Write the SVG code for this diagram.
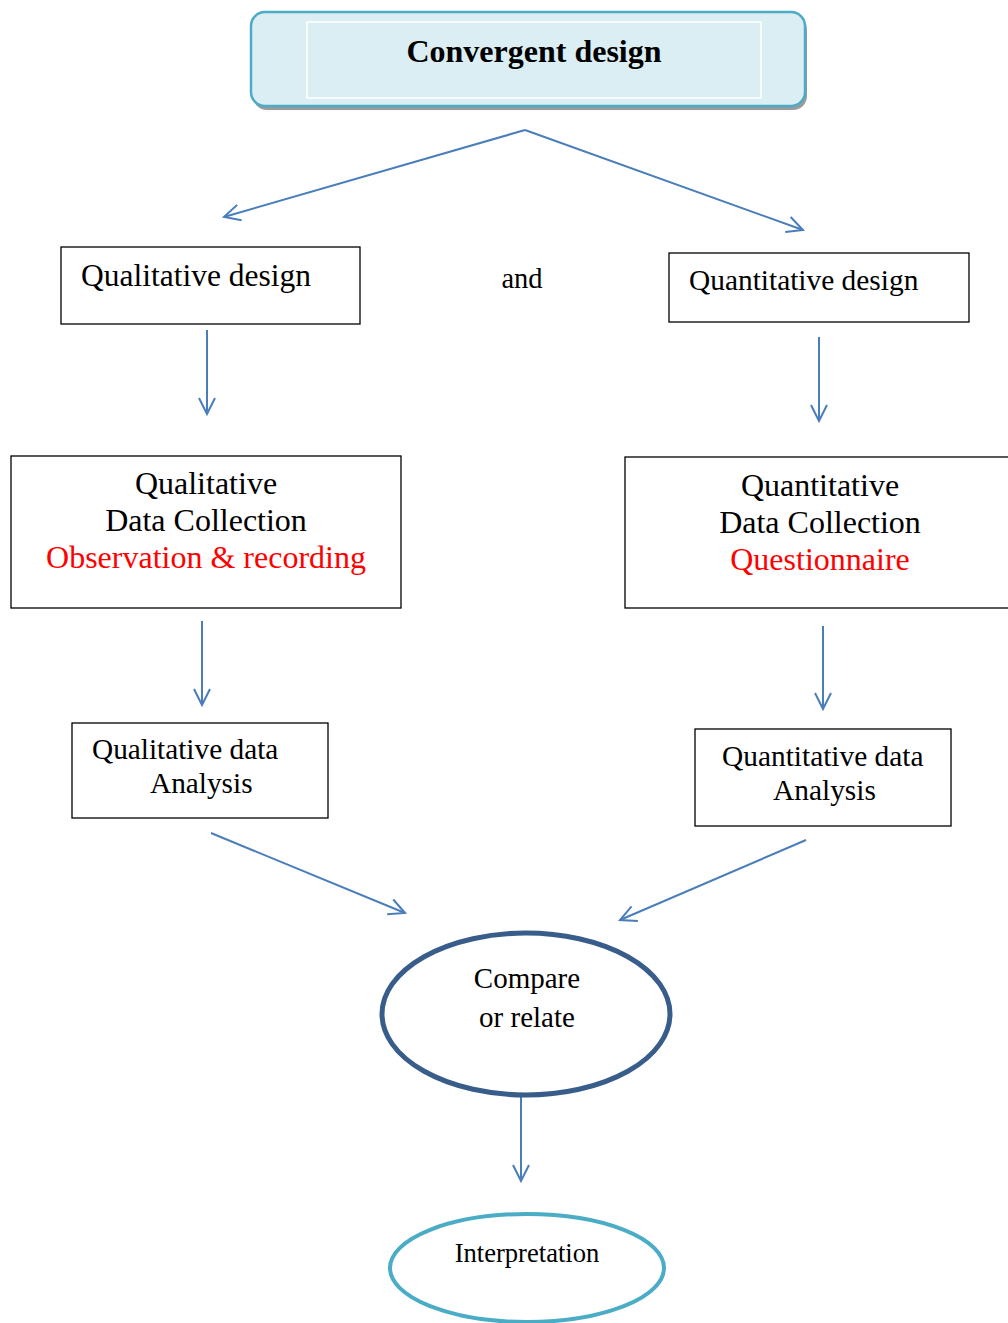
<svg xmlns="http://www.w3.org/2000/svg" width="1008" height="1323" viewBox="0 0 1008 1323">
<style>
text{font-family:"Liberation Serif","Times New Roman",serif;fill:#000}
.box{fill:#fff;stroke:#000;stroke-width:1.3}
.red{fill:#FF0000}
.c{stroke:#4A7EBB;stroke-width:2;fill:none}
</style>
<defs>
<marker id="ah" viewBox="0 0 20 20" refX="18" refY="10" markerWidth="20" markerHeight="20" markerUnits="userSpaceOnUse" orient="auto">
<path d="M2,2 L18,10 L2,18" fill="none" stroke="#4A7EBB" stroke-width="2"/>
</marker>
</defs>
<rect x="0" y="0" width="1008" height="1323" fill="#fff"/>
<g id="title">
<rect x="253" y="16" width="554" height="94" rx="14" fill="#9a9a9a"/>
<rect x="251" y="12" width="554" height="94" rx="14" fill="#DAEEF3" stroke="#4BACC6" stroke-width="2.5"/>
<rect x="307" y="22" width="454" height="76" fill="none" stroke="#fff" stroke-width="1.5"/>
<text x="534" y="62" font-size="32" font-weight="bold" text-anchor="middle">Convergent design</text>
</g>
<g id="connectors">
<path class="c" d="M525,130 L224,217" marker-end="url(#ah)"/>
<path class="c" d="M525,130 L803,230" marker-end="url(#ah)"/>
<path class="c" d="M207,330 L207,414" marker-end="url(#ah)"/>
<path class="c" d="M819,337 L819,421" marker-end="url(#ah)"/>
<path class="c" d="M202,621 L202,705" marker-end="url(#ah)"/>
<path class="c" d="M823,626 L823,709" marker-end="url(#ah)"/>
<path class="c" d="M211,833 L405,913" marker-end="url(#ah)"/>
<path class="c" d="M806,840 L620,920" marker-end="url(#ah)"/>
<path class="c" d="M521,1097 L521,1181" marker-end="url(#ah)"/>
</g>
<g id="qual-design">
<rect class="box" x="61" y="247" width="299" height="77"/>
<text x="81" y="286" font-size="31.5">Qualitative design</text>
</g>
<g id="and">
<text x="522" y="288" font-size="28.5" text-anchor="middle">and</text>
</g>
<g id="quant-design">
<rect class="box" x="669" y="253" width="300" height="69"/>
<text x="689" y="290" font-size="29.4">Quantitative design</text>
</g>
<g id="qual-collection">
<rect class="box" x="11" y="456" width="390" height="152"/>
<text x="206" y="494" font-size="32" text-anchor="middle">Qualitative</text>
<text x="206" y="531" font-size="32" text-anchor="middle">Data Collection</text>
<text class="red" x="206" y="568" font-size="32" text-anchor="middle">Observation &amp; recording</text>
</g>
<g id="quant-collection">
<rect class="box" x="625" y="457" width="390" height="151"/>
<text x="820" y="496" font-size="32" text-anchor="middle">Quantitative</text>
<text x="820" y="533" font-size="32" text-anchor="middle">Data Collection</text>
<text class="red" x="820" y="570" font-size="32" text-anchor="middle">Questionnaire</text>
</g>
<g id="qual-analysis">
<rect class="box" x="72" y="723" width="256" height="95"/>
<text x="92" y="759" font-size="29.3">Qualitative data</text>
<text x="150" y="793" font-size="29.3">Analysis</text>
</g>
<g id="quant-analysis">
<rect class="box" x="695" y="729" width="256" height="97"/>
<text x="722" y="766" font-size="29.4">Quantitative data</text>
<text x="773" y="800" font-size="29.4">Analysis</text>
</g>
<g id="compare">
<ellipse cx="526" cy="1014" rx="144" ry="81" fill="#fff" stroke="#385D8A" stroke-width="5"/>
<text x="527" y="988" font-size="29" text-anchor="middle">Compare</text>
<text x="527" y="1027" font-size="29" text-anchor="middle">or relate</text>
</g>
<g id="interpretation">
<ellipse cx="527" cy="1268" rx="137" ry="54" fill="#fff" stroke="#4BACC6" stroke-width="4"/>
<text x="527" y="1262" font-size="26.6" text-anchor="middle">Interpretation</text>
</g>
</svg>
